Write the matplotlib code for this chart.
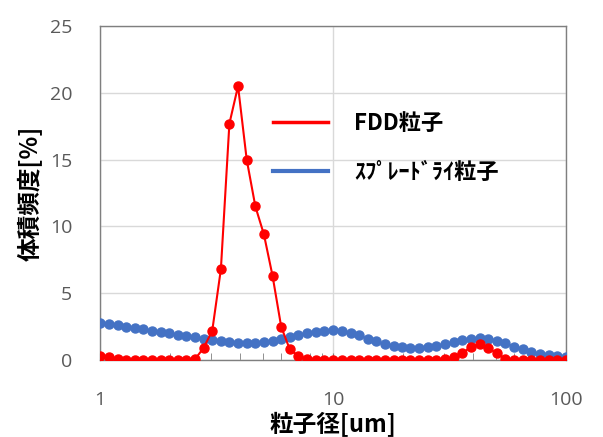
import matplotlib
matplotlib.use('Agg')
import matplotlib.pyplot as plt
from matplotlib.lines import Line2D
from matplotlib.ticker import LogLocator, NullFormatter, FixedLocator, FixedFormatter

plt.rcParams['font.family'] = ['Noto Sans CJK JP', 'DejaVu Sans']

# particle size bins [um] (log spaced channels)
size_um = [1.00, 1.09, 1.19, 1.29, 1.41, 1.53, 1.67, 1.82, 1.98, 2.15,
           2.34, 2.55, 2.78, 3.03, 3.30, 3.59, 3.91, 4.26, 4.64, 5.05,
           5.50, 5.99, 6.52, 7.10, 7.74, 8.43, 9.18, 10.0, 10.9, 11.9,
           12.9, 14.1, 15.3, 16.7, 18.2, 19.8, 21.5, 23.4, 25.5, 27.8,
           30.3, 33.0, 35.9, 39.1, 42.6, 46.4, 50.5, 55.0, 59.9, 65.2,
           71.0, 77.4, 84.3, 91.8, 100.0]

fdd = [0.3, 0.2, 0.1, 0.0, 0.0, 0.0, 0.0, 0.0, 0.0, 0.0,
       0.0, 0.05, 0.9, 2.2, 6.8, 17.7, 20.5, 15.0, 11.5, 9.4,
       6.3, 2.5, 0.8, 0.3, 0.1, 0.0, 0.0, 0.0, 0.0, 0.0,
       0.0, 0.0, 0.0, 0.0, 0.0, 0.0, 0.0, 0.0, 0.0, 0.0,
       0.1, 0.2, 0.5, 1.0, 1.2, 0.9, 0.5, 0.1, 0.0, 0.0,
       0.0, 0.0, 0.0, 0.0, 0.0]

spray = [2.8, 2.7, 2.6, 2.5, 2.4, 2.3, 2.2, 2.1, 2.0, 1.9,
         1.8, 1.7, 1.6, 1.5, 1.4, 1.35, 1.3, 1.3, 1.3, 1.35,
         1.4, 1.55, 1.7, 1.85, 2.0, 2.1, 2.2, 2.25, 2.2, 2.05,
         1.85, 1.6, 1.4, 1.2, 1.05, 0.95, 0.9, 0.9, 0.95, 1.05,
         1.2, 1.35, 1.5, 1.6, 1.65, 1.6, 1.45, 1.25, 1.0, 0.8,
         0.6, 0.45, 0.35, 0.3, 0.25]

labels = ['FDD粒子', 'ｽﾌﾟﾚｰﾄﾞﾗｲ粒子']
red = '#ff0000'
blue = '#4472c4'

fig = plt.figure(figsize=(6.03, 4.37), dpi=100)
ax = fig.add_axes([0.166, 0.176, 0.7726, 0.7645])

ax.plot(size_um, spray, color=blue, lw=1.5, marker='o', ms=6.5, zorder=3)
ax.plot(size_um, fdd, color=red, lw=1.5, marker='o', ms=6.5, zorder=4)

ax.set_xscale('log')
ax.set_xlim(1, 100)
ax.set_ylim(0, 25)

ax.xaxis.set_major_locator(FixedLocator([1, 10, 100]))
ax.xaxis.set_major_formatter(FixedFormatter(['1', '10', '100']))
ax.xaxis.set_minor_locator(LogLocator(base=10, subs=range(2, 10)))
ax.xaxis.set_minor_formatter(NullFormatter())
ax.set_yticks([0, 5, 10, 15, 20, 25])

ax.grid(True, which='major', color='#d9d9d9', lw=1)
ax.set_axisbelow(True)
for s in ax.spines.values():
    s.set_color('#7f7f7f')
    s.set_linewidth(1)

ax.tick_params(axis='x', which='both', direction='in', color='#7f7f7f',
               labelcolor='#595959', labelsize=14, pad=22)
ax.tick_params(axis='x', which='major', length=5)
ax.tick_params(axis='x', which='minor', length=5)
ax.tick_params(axis='y', length=0, labelcolor='#595959', labelsize=14, pad=20)
for t in ax.get_xticklabels() + ax.get_yticklabels():
    t.set_family(['Open Sans', 'DejaVu Sans'])

ax.set_ylabel('体積頻度[%]', fontsize=17, fontweight='bold', labelpad=5)
fig.text(0.552, 0.028, '粒子径[um]', fontsize=17, fontweight='bold',
         ha='center', va='center')

handles = [Line2D([], [], color=red, lw=2.5), Line2D([], [], color=blue, lw=3)]
leg = ax.legend(handles, labels, loc='center left', bbox_to_anchor=(0.371, 0.635),
                frameon=False, borderpad=0, borderaxespad=0, handlelength=2.5,
                handletextpad=1.15, labelspacing=1.15,
                prop={'size': 16, 'weight': 'bold'})

fig.savefig('out.png', dpi=100)
